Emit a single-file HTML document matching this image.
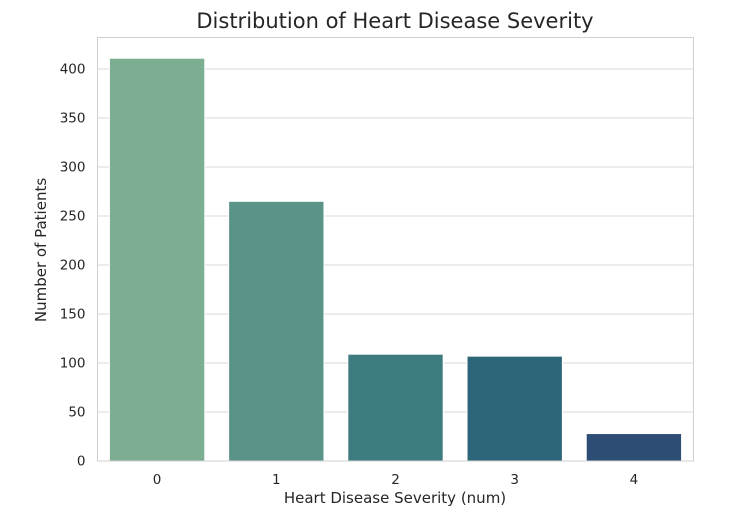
<!DOCTYPE html>
<html><head><meta charset="utf-8"><style>
body{margin:0;background:#fff;}
svg text{font-family:"DejaVu Sans","Liberation Sans",sans-serif;fill:#262626;}
</style></head><body>
<svg id="chart" width="745" height="525" viewBox="0 0 745 525">
<text x="395" y="28" font-size="21" text-anchor="middle">Distribution of Heart Disease Severity</text>
<g id="grid"></g>
<g id="bars"></g>
<rect x="97.5" y="37.5" width="596" height="423.5" fill="none" stroke="#d0d0d0" stroke-width="1"/>
<g id="ticks"></g>
<text x="395" y="503" font-size="15" text-anchor="middle">Heart Disease Severity (num)</text>
<text x="0" y="0" font-size="15" text-anchor="middle" transform="translate(46,250) rotate(-90)">Number of Patients</text>
</svg>
<script>
const categories=["0","1","2","3","4"];
const values=[411,265,109,107,28];
const yTicks=[0,50,100,150,200,250,300,350,400];
const colors=["#7dae92","#5a9488","#3e7b80","#2d6579","#2d4d75"];
const L=97.5,R=693.5,T=37.5,B=461;
const y=v=>B-v*0.98;
const step=(R-L)/categories.length;
const x=i=>L+step*(i+0.5);
const ns="http://www.w3.org/2000/svg";
const g=document.getElementById('grid'),bg=document.getElementById('bars'),tg=document.getElementById('ticks');
yTicks.forEach(t=>{
 const l=document.createElementNS(ns,'line');
 l.setAttribute('x1',L);l.setAttribute('x2',R);l.setAttribute('y1',y(t));l.setAttribute('y2',y(t));
 l.setAttribute('stroke','#d9d9d9');l.setAttribute('stroke-width','1');
 
 
 g.appendChild(l);
 const tx=document.createElementNS(ns,'text');
 tx.setAttribute('x',L-12);tx.setAttribute('y',y(t)+4.5);tx.setAttribute('font-size','13.5');tx.setAttribute('text-anchor','end');
 tx.textContent=t;
 
 
 tg.appendChild(tx);
});
categories.forEach((c,i)=>{
 const w=step*0.8;
 const r=document.createElementNS(ns,'rect');
 r.setAttribute('x',x(i)-w/2);r.setAttribute('y',y(values[i]));r.setAttribute('width',w);r.setAttribute('height',B-y(values[i]));
 r.setAttribute('fill',colors[i]);r.setAttribute('stroke','#fff');r.setAttribute('stroke-width','1');
 
 
 bg.appendChild(r);
 const tx=document.createElementNS(ns,'text');
 tx.setAttribute('x',x(i));tx.setAttribute('y',B+23);tx.setAttribute('font-size','13.5');tx.setAttribute('text-anchor','middle');
 tx.textContent=c;
 
 
 tg.appendChild(tx);
});
</script>
</body></html>
